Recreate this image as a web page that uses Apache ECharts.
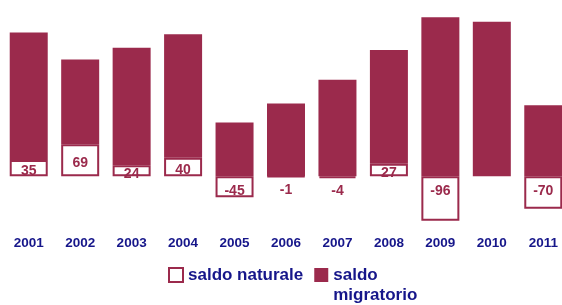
<!DOCTYPE html>
<html>
<head>
<meta charset="utf-8">
<script src="https://cdn.jsdelivr.net/npm/echarts@6/dist/echarts.min.js"></script>
<style>
html, body { margin: 0; padding: 0; background: #fff; overflow: hidden; }
#chart { width: 562px; height: 305px; }
</style>
</head>
<body>
<div id="chart"></div>
<script>
var years = ['2001', '2002', '2003', '2004', '2005', '2006', '2007', '2008', '2009', '2010', '2011'];
var saldoNaturale = [35, 69, 24, 40, -45, -1, -4, 27, -96, null, -70];
var saldoMigratorio = [275, 183, 253, 266, 116, 157, 208, 245, 343, 333, 153];

var maroon = '#9b2a4c';
var navy = '#16168a';

var chart = echarts.init(document.getElementById('chart'));

// labels: positives centred in the box, negatives just under zero
var naturaleData = saldoNaturale.map(function(v) {
	if (v == null) return v;
	return {
		value: v,
		label: v < 0 ? {position: 'insideTop', distance: 8} : {position: 'inside', offset: [0, 3]}
	};
});

var option = {
	animation: false,
	// last bar runs off the right edge in the original
	grid: {left: 3, top: 0, width: 566, height: 232, outerBoundsMode: 'none'},
	xAxis: {
		type: 'category',
		data: years,
		axisLine: {show: false},
		axisTick: {show: false},
		axisLabel: {
			margin: 4,
			color: navy,
			fontFamily: 'Liberation Sans, Arial, sans-serif',
			fontWeight: 'bold',
			fontSize: 13.5
		}
	},
	yAxis: {
		type: 'value',
		min: -120,
		max: 380,
		show: false
	},
	legend: {
		left: 168,
		top: 245,
		padding: 0,
		itemWidth: 14,
		itemHeight: 14,
		itemGap: 11,
		icon: 'rect',
		textStyle: {
			color: navy,
			fontFamily: 'Liberation Sans, Arial, sans-serif',
			fontWeight: 'bold',
			fontSize: 17,
			lineHeight: 20
		},
		// blank first line keeps "saldo" level with the icon
		formatter: function(name) {
			return name == 'saldo migratorio' ? '\nsaldo\nmigratorio' : name;
		},
		data: ['saldo naturale', 'saldo migratorio']
	},
	series: [
		{
			name: 'saldo naturale',
			type: 'bar',
			stack: 'tot',
			barWidth: 38,
			data: naturaleData,
			itemStyle: {color: '#fff', borderColor: maroon, borderWidth: 2},
			label: {
				show: true,
				color: maroon,
				fontFamily: 'Liberation Sans, Arial, sans-serif',
				fontWeight: 'bold',
				fontSize: 14
			}
		},
		{
			name: 'saldo migratorio',
			type: 'bar',
			stack: 'tot',
			barWidth: 38,
			data: saldoMigratorio,
			itemStyle: {color: maroon}
		}
	]
};

chart.setOption(option);
</script>
</body>
</html>
